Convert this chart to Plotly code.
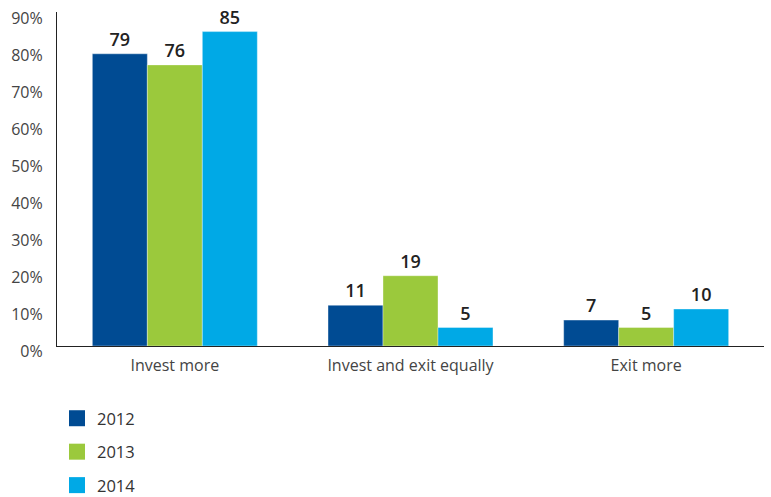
import plotly.graph_objects as go

categories = ["Invest more", "Invest and exit equally", "Exit more"]
years = ["2012", "2013", "2014"]
values_2012 = [79, 11, 7]
values_2013 = [76, 19, 5]
values_2014 = [85, 5, 10]
colors = ["#004B93", "#9BC93C", "#00A9E6"]
y_ticks = [0, 10, 20, 30, 40, 50, 60, 70, 80, 90]
y_tick_labels = ["0%", "10%", "20%", "30%", "40%", "50%", "60%", "70%", "80%", "90%"]

series = [values_2012, values_2013, values_2014]

fig = go.Figure()
for yr, vals, col in zip(years, series, colors):
    fig.add_trace(go.Bar(
        x=categories, y=vals, name=yr, marker=dict(color=col, line=dict(width=0.6, color="rgba(255,255,255,0.6)")),
        text=[str(v) for v in vals], textposition="outside",
        textfont=dict(family="Open Sans", size=18, color="#222222", weight=600),
        cliponaxis=False, showlegend=False,
    ))
for i, (yr, col) in enumerate(zip(years, colors)):
    fig.add_trace(go.Scatter(
        x=[None], y=[None], mode="markers", name=yr, legendgroup=yr,
        marker=dict(symbol="square", size=18, color=col),
    ))

fig.update_layout(
    width=771, height=497,
    margin=dict(l=57, r=7, t=12, b=151, autoexpand=False),
    plot_bgcolor="white", paper_bgcolor="white",
    barmode="group", bargap=0.30, bargroupgap=0,
    font=dict(family="Open Sans", color="#444444", size=15),
    showlegend=True,
    legend=dict(
        xref="container", yref="container", x=57 / 771, y=1 - 401 / 497,
        xanchor="left", yanchor="top", orientation="v",
        font=dict(size=16.5, color="#333333"), tracegroupgap=9,
        bgcolor="rgba(0,0,0,0)",
    ),
    xaxis=dict(showline=True, linecolor="#222222", linewidth=1.2, ticks="", automargin=False,
               ticklabelstandoff=5, tickfont=dict(size=16, color="#444444")),
    yaxis=dict(range=[0, 90.3], tickvals=y_ticks, ticktext=y_tick_labels, showgrid=False,
               zeroline=False, showline=True, linecolor="#222222", linewidth=1.2,
               ticks="", ticklabelstandoff=10, ticklabelshift=5, automargin=False,
               tickfont=dict(size=16, color="#444444")),
)

fig.write_html("out.html", post_script="document.body.style.margin='0';",
               config={"displayModeBar": False})
